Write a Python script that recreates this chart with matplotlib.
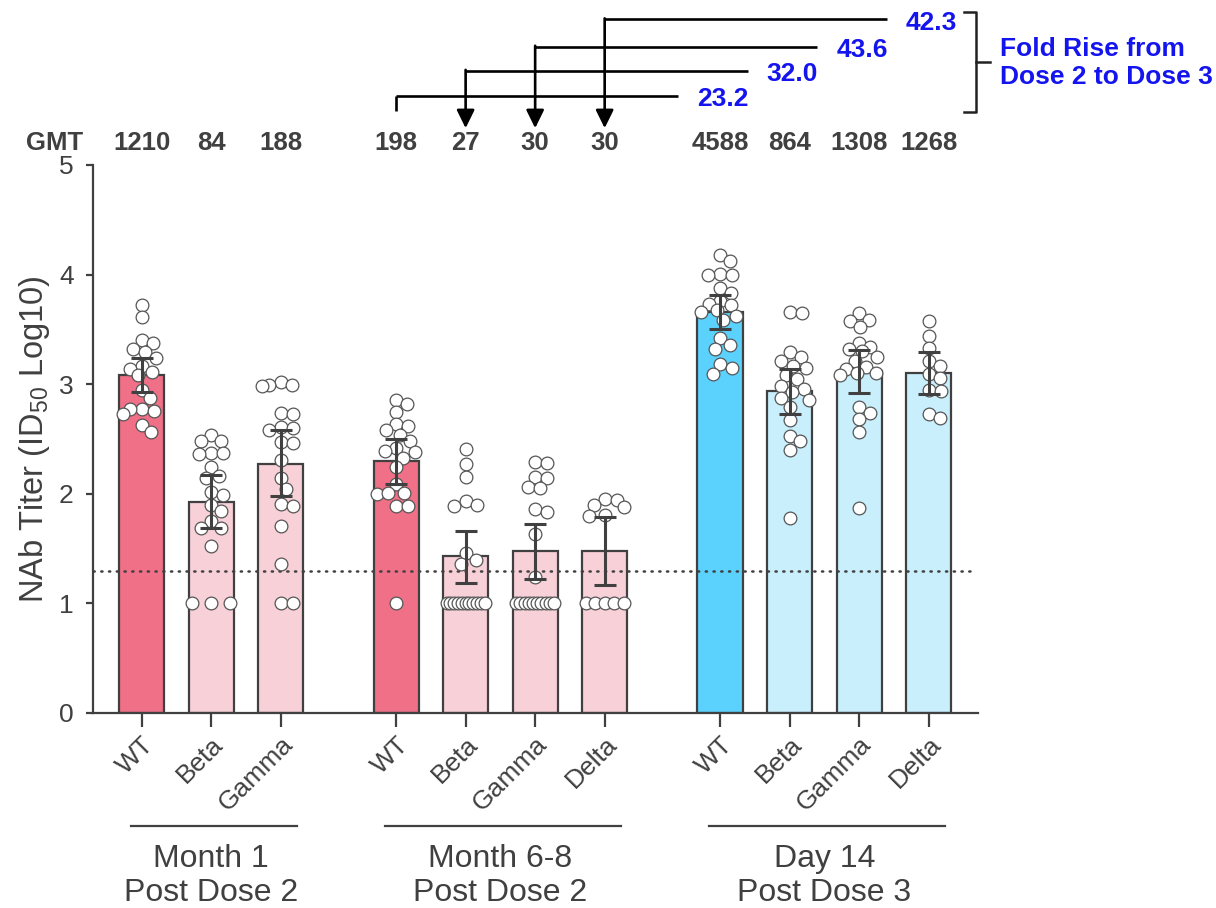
import numpy as np
import matplotlib
matplotlib.use("Agg")
import matplotlib.pyplot as plt
from matplotlib import transforms

plt.rcParams["font.family"] = ["Liberation Sans", "DejaVu Sans"]
plt.rcParams["mathtext.fontset"] = "custom"
plt.rcParams["mathtext.rm"] = "Liberation Sans"
plt.rcParams["mathtext.it"] = "Liberation Sans:italic"

# ---- data ----
groups = ["Month 1\nPost Dose 2", "Month 6-8\nPost Dose 2", "Day 14\nPost Dose 3"]
group_sizes = [3, 4, 4]
tick_labels = ["WT", "Beta", "Gamma", "WT", "Beta", "Gamma", "Delta",
               "WT", "Beta", "Gamma", "Delta"]
gmt = [1210, 84, 188, 198, 27, 30, 30, 4588, 864, 1308, 1268]

ci_lo = [2.93, 1.69, 1.98, 2.09, 1.19, 1.22, 1.17, 3.50, 2.73, 2.92, 2.91]
ci_hi = [3.24, 2.17, 2.58, 2.50, 1.66, 1.72, 1.79, 3.81, 3.14, 3.31, 3.29]

wt_m1 = [3.72, 3.61, 3.40, 3.38, 3.32, 3.29, 3.24, 3.17, 3.14, 3.11, 3.08,
         2.95, 2.87, 2.77, 2.77, 2.76, 2.73, 2.63, 2.56]
beta_m1 = [2.54, 2.48, 2.48, 2.37, 2.37, 2.36, 2.24, 2.16, 2.14, 2.02, 1.99,
           1.90, 1.84, 1.75, 1.69, 1.69, 1.52, 1.0, 1.0, 1.0]
gamma_m1 = [3.02, 2.99, 2.99, 2.98, 2.74, 2.73, 2.61, 2.60, 2.58, 2.47, 2.46,
            2.31, 2.14, 2.04, 1.91, 1.89, 1.71, 1.36, 1.0, 1.0]
wt_m6 = [2.86, 2.82, 2.75, 2.64, 2.62, 2.58, 2.54, 2.48, 2.42, 2.39, 2.38,
         2.33, 2.24, 2.09, 2.01, 2.00, 2.01, 1.89, 1.89, 1.0]
beta_m6 = [2.41, 2.27, 2.15, 1.93, 1.90, 1.89, 1.46, 1.40, 1.36,
           1.0, 1.0, 1.0, 1.0, 1.0, 1.0, 1.0, 1.0, 1.0, 1.0, 1.0]
gamma_m6 = [2.29, 2.28, 2.15, 2.14, 2.06, 2.05, 1.86, 1.83, 1.63, 1.24,
            1.0, 1.0, 1.0, 1.0, 1.0, 1.0, 1.0, 1.0, 1.0, 1.0]
delta_m6 = [1.95, 1.94, 1.90, 1.88, 1.81, 1.80, 1.0, 1.0, 1.0, 1.0, 1.0]
wt_d14 = [4.18, 4.12, 4.01, 4.00, 4.00, 3.88, 3.83, 3.76, 3.73, 3.72, 3.68,
          3.66, 3.62, 3.59, 3.42, 3.36, 3.32, 3.18, 3.15, 3.09]
beta_d14 = [3.66, 3.65, 3.29, 3.25, 3.21, 3.17, 3.15, 3.08, 3.05, 2.98, 2.96,
            2.93, 2.87, 2.86, 2.79, 2.67, 2.53, 2.48, 2.40, 1.78]
gamma_d14 = [3.65, 3.59, 3.58, 3.52, 3.38, 3.34, 3.32, 3.30, 3.25, 3.21, 3.16,
             3.14, 3.10, 3.10, 3.08, 2.79, 2.74, 2.68, 2.56, 1.87]
delta_d14 = [3.58, 3.44, 3.33, 3.21, 3.17, 3.09, 3.06, 2.95, 2.94, 2.73, 2.69]

points = [wt_m1, beta_m1, gamma_m1, wt_m6, beta_m6, gamma_m6, delta_m6,
          wt_d14, beta_d14, gamma_d14, delta_d14]

LLOQ = 1.3

# ---- style ----
DARK = "#404040"
BLUE = "#1414EE"
colors = ["#EF7087", "#F8D0D8", "#F8D0D8",
          "#EF7087", "#F8D0D8", "#F8D0D8", "#F8D0D8",
          "#5BD2FD", "#C9EEFC", "#C9EEFC", "#C9EEFC"]

# bar positions with a gap between groups
pos = []
x = 0.0
for n in group_sizes:
    for k in range(n):
        pos.append(x)
        x += 1
    x += 0.66
pos = np.array(pos)

PX_X, PX_Y = 69.5, 109.6  # pixels per data unit


def swarm(vals, d=11.5, wmax=19.0):
    # simple beeswarm in pixel space, kept inside the bar
    vals = np.asarray(vals, dtype=float)
    ypx = vals * PX_Y
    xs = np.zeros(len(vals))
    placed = []
    u, c = np.unique(vals, return_counts=True)
    for uv, cnt in zip(u, c):
        if cnt >= 3:
            idx = np.where(vals == uv)[0]
            xs[idx] = np.linspace(-wmax, wmax, cnt)
            placed += list(idx)
    grid = np.arange(-wmax, wmax + 0.01, 0.5)
    for i in np.argsort(-vals, kind="stable"):
        if i in placed:
            continue
        cands = [0.0]
        for j in placed:
            dy = abs(ypx[j] - ypx[i])
            if dy < d:
                dx = np.sqrt(d * d - dy * dy)
                cands += [xs[j] + dx, xs[j] - dx]
        cands = [cx for cx in cands if abs(cx) <= wmax]
        cands.sort(key=abs)
        best = None
        for cx in cands:
            if all((cx - xs[j]) ** 2 + (ypx[j] - ypx[i]) ** 2 >= d * d - 1e-6
                   for j in placed):
                best = cx
                break
        if best is None:
            near = [j for j in placed if abs(ypx[j] - ypx[i]) < d]
            dist = [min((g - xs[j]) ** 2 + (ypx[j] - ypx[i]) ** 2 for j in near)
                    for g in grid]
            best = grid[int(np.argmax(dist))]
        xs[i] = best
        placed.append(i)
    return xs / PX_X


fig = plt.figure(figsize=(12.16, 9.08), dpi=100)
ax = fig.add_axes([93 / 1216, 1 - 713 / 908, 885 / 1216, 548 / 908])

heights = np.log10(gmt)
ax.bar(pos, heights, width=0.65, color=colors, edgecolor=DARK, linewidth=1.6, zorder=1)
ax.axhline(LLOQ, xmin=0, xmax=0.993, color=DARK, lw=1.8, ls=(0, (0.5, 2.6)),
           dash_capstyle="round", zorder=2)

for p, vals in zip(pos, points):
    ax.scatter(p + swarm(vals, d=12.0), vals, s=84, facecolor="white",
               edgecolor="#555555", linewidth=0.9, zorder=3, clip_on=False)

ax.errorbar(pos, heights, yerr=[heights - np.array(ci_lo), np.array(ci_hi) - heights],
            fmt="none", ecolor=DARK, elinewidth=2.2, capsize=8, capthick=2.2, zorder=4)

ax.set_xlim(-0.7, 12.03)
ax.set_ylim(0, 5)
ax.set_yticks(range(6))
ax.set_xticks(pos)
ax.set_xticklabels(tick_labels, rotation=45, ha="right", va="top", rotation_mode="anchor")
for s in ["top", "right"]:
    ax.spines[s].set_visible(False)
for s in ["left", "bottom"]:
    ax.spines[s].set_color(DARK)
    ax.spines[s].set_linewidth(1.6)
ax.tick_params(axis="y", length=5, width=1.6, color=DARK, labelcolor=DARK,
               labelsize=19, pad=9)
ax.tick_params(axis="x", length=10, width=1.6, color=DARK, labelcolor=DARK,
               labelsize=19, pad=4)
ax.text(-0.066, 0.5, "NAb Titer (ID$_{50}$ Log10)", transform=ax.transAxes,
        rotation=90, ha="center", va="center", fontsize=23.5, color=DARK)

# GMT row
gmt_y = 5.20
ax.text(-1.26, gmt_y, "GMT", ha="center", va="center", fontsize=18.5,
        fontweight="bold", color=DARK, clip_on=False)
for p, g in zip(pos, gmt):
    ax.text(p, gmt_y, str(g), ha="center", va="center", fontsize=18.5,
            fontweight="bold", color=DARK, clip_on=False)

# fold-rise brackets from dose 2 (month 6-8) to dose 3
fold_y = [5.63, 5.86, 6.08, 6.33]
for i in range(4):
    src, dst = pos[3 + i], pos[7 + i]
    y = fold_y[i]
    fold = gmt[7 + i] / gmt[3 + i]
    ax.plot([src, dst - 0.6], [y, y], color="black", lw=1.9, clip_on=False,
            solid_capstyle="butt")
    if i == 0:
        ax.plot([src, src], [y, 5.495], color="black", lw=1.9, clip_on=False,
                solid_capstyle="butt")
    else:
        ax.annotate("", xy=(src, 5.336), xytext=(src, y + 0.008),
                    arrowprops=dict(arrowstyle="-|>,head_length=0.55,head_width=0.27",
                                    color="black", lw=1.9, shrinkA=0, shrinkB=0,
                                    mutation_scale=20),
                    annotation_clip=False)
    ax.text(dst + 0.04, y - 0.03, f"{fold:.1f}", ha="center", va="center",
            fontsize=19, fontweight="bold", color=BLUE, clip_on=False)

bx = 12.0
ax.plot([bx - 0.17, bx, bx, bx - 0.17], [6.393, 6.393, 5.486, 5.486],
        color="#222222", lw=1.8, clip_on=False)
ax.plot([bx, bx + 0.2], [5.943, 5.943], color="#222222", lw=1.8, clip_on=False)
ax.text(12.345, 5.93, "Fold Rise from\nDose 2 to Dose 3", ha="left", va="center",
        fontsize=19, fontweight="bold", color=BLUE, linespacing=1.2, clip_on=False)

# group labels under the axis
tr = transforms.blended_transform_factory(ax.transData, fig.transFigure)
start = 0
for name, n in zip(groups, group_sizes):
    a, b = pos[start], pos[start + n - 1]
    ax.plot([a - 0.16, b + 0.23], [1 - 826 / 908] * 2, transform=tr, color=DARK,
            lw=1.6, clip_on=False)
    ax.text((a + b) / 2, 1 - 876 / 908, name, transform=tr, ha="center", va="center",
            fontsize=23, color=DARK, linespacing=1.15)
    start += n

fig.savefig("out.png", dpi=100)
